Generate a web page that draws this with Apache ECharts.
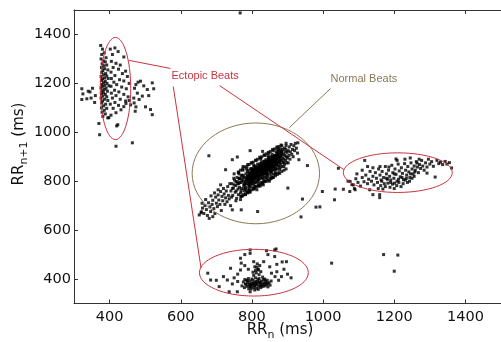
<!DOCTYPE html>
<html><head><meta charset="utf-8">
<script src="https://cdn.jsdelivr.net/npm/echarts@6/dist/echarts.min.js"></script>
<style>html,body{margin:0;padding:0;background:#fff}#c{width:501px;height:342px}</style>
</head><body><div id="c"></div>
<script>
// Tick labels
const xTicks = [400, 600, 800, 1000, 1200, 1400];
const yTicks = [400, 600, 800, 1000, 1200, 1400];

// Ectopic beats, upper-left cluster (RRn, RRn+1) in ms
const ectopicTop = [
[375,1355],[380,1340],[378,1318],[385,1325],[390,1305],[376,1300],[382,1292],[388,1288],[379,1280],[384,1272],[392,1275],[377,1265],[386,1260],[381,1252],[395,1255],[378,1245],[389,1240],[383,1235],[376,1228],[392,1230],[386,1222],[380,1218],[396,1220],[377,1212],[388,1208],[383,1203],[393,1200],[378,1196],[387,1192],[381,1188],[398,1190],[376,1182],[390,1180],[385,1175],[379,1170],[394,1168],[383,1162],[377,1158],[388,1155],[381,1148],[392,1145],[376,1140],[386,1135],[380,1128],[395,1130],[378,1120],[389,1115],[383,1108],[377,1100],[392,1098],[385,1090],[379,1082],[388,1075],[381,1065],
[402,1340],[415,1345],[424,1330],[408,1318],[440,1308],[405,1290],[418,1282],[430,1275],[410,1265],[425,1258],[445,1250],[404,1246],[436,1240],[415,1232],[450,1228],[405,1220],[428,1215],[440,1210],[412,1205],[455,1200],[420,1195],[404,1188],[434,1185],[447,1178],[414,1172],[426,1165],[405,1160],[440,1155],[418,1150],[452,1145],[408,1140],[430,1135],[445,1128],[415,1122],[402,1115],[425,1110],[440,1105],[410,1098],[432,1092],[418,1080],[404,1070],[398,1060],[423,1031],[420,1026],[446,1118],[455,1130],[459,1112],
[474,1195],[487,1209],[492,1148],[506,1175],[520,1202],[524,1178],[501,1104],[515,1093],[520,1072],[483,1134],[472,1086],[474,1104],[469,1120],[478,1160],[470,1180],[496,1190],[480,1205],[510,1150],[468,1140],
[464,957],[418,943],[372,990],[370,1036],[395,1059],
[322,1178],[325,1157],[322,1134],[336,1137],[345,1165],[352,1180],[348,1140],[360,1150],[358,1122],[340,1168]
];

// Normal beats, central cluster
const normalBeats = [
[652,662],[658,675],[661,690],[665,668],[668,700],[672,684],[675,660],[678,712],[682,695],[684,676],[688,705],[690,722],[693,688],[696,668],[698,735],[700,710],[703,696],[705,744],[707,723],[710,705],[712,758],[714,680],[716,738],[718,720],[720,770],[722,748],[724,705],[726,732],[728,760],[730,716],[732,778],[734,742],[736,728],[738,790],[740,700],[660,710],[670,725],[685,740],[695,752],[705,765],[712,785],[745,683],[690,655],[680,648],[657,671],
[741,760],[744,790],[746,742],[748,772],[751,805],[753,755],[755,782],[757,730],[759,798],[761,768],[743,735],[749,812],[756,760],[762,745],[758,815],
[763,790],[765,775],[767,810],[768,752],[770,795],[771,770],[773,825],[774,740],[776,800],[777,782],[779,760],[780,815],[764,830],[769,738],[775,845],[778,788],[772,805],[766,795],
[781,798],[782,775],[783,830],[784,805],[786,760],[787,820],[788,790],[789,845],[790,808],[791,780],[792,835],[793,765],[794,812],[795,795],[796,850],[797,825],[798,778],[799,805],[785,850],[788,752],[793,800],[780,785],[798,840],[791,818],
[800,818],[801,790],[802,842],[803,805],[804,770],[805,830],[806,812],[807,860],[808,795],[809,825],[810,780],[811,845],[812,808],[813,832],[814,765],[815,818],[816,870],[817,800],[818,840],[819,822],[820,790],[803,850],[807,778],[811,830],[815,850],[819,808],[805,865],[813,795],
[821,835],[822,810],[823,860],[824,845],[825,825],[826,795],[827,870],[828,838],[829,812],[830,850],[831,828],[832,785],[833,880],[834,842],[835,818],[836,860],[837,800],[838,835],[839,888],[840,850],[823,780],[827,848],[831,865],[835,832],[839,815],[825,890],[833,805],[837,875],
[841,865],[842,835],[843,880],[844,850],[845,818],[846,872],[847,845],[848,895],[849,830],[850,860],[851,875],[852,842],[853,810],[854,885],[855,858],[856,832],[857,900],[858,868],[859,848],[860,880],[843,825],[847,862],[851,890],[855,842],[859,815],[845,905],[853,865],[849,800],
[861,862],[862,890],[863,845],[864,875],[865,905],[866,858],[867,830],[868,885],[869,870],[870,912],[871,850],[872,880],[873,895],[874,862],[875,835],[876,900],[877,875],[878,920],[879,855],[880,888],[863,868],[868,850],[872,905],[877,890],[862,828],[875,928],
[881,870],[882,900],[883,915],[884,885],[885,860],[886,930],[887,895],[888,878],[889,910],[890,890],[891,935],[892,870],[893,905],[894,920],[895,885],[896,945],[897,900],[898,875],[899,918],[900,895],
[902,925],[904,905],[905,940],[907,890],[908,920],[910,950],[912,910],[914,930],[916,900],[918,945],[920,925],[922,955],[925,935],[928,915],
[795,812],[800,805],[805,822],[810,815],[815,835],[820,825],[825,845],[830,838],[835,855],[840,842],[845,860],[850,852],[855,870],[860,858],[865,878],[870,868],[797,832],[802,826],[808,840],[814,842],[818,856],[824,855],[829,864],[834,870],[838,862],[844,878],[848,872],[852,885],[857,880],[862,895],[866,888],[792,790],[798,798],[804,800],[812,820],[817,812],[822,820],[828,826],[833,830],[838,845],[843,840],[848,848],[853,852],[858,860],[864,865],[869,875],[874,882],[879,878],
[750,830],[755,720],[762,838],[768,725],[775,860],[782,745],[788,868],[795,755],[800,875],[806,770],[812,885],[818,782],[824,895],[830,795],[836,905],[842,808],[848,915],[854,820],[860,925],[866,835],[872,935],[878,848],[884,945],[890,860],[896,955],[902,875],[764,810],[770,760],[776,822],[782,768],[787,838],[793,782],[799,852],[805,790],[811,862],[817,802],[823,872],[829,815],[835,882],[841,828],[847,890],[853,838],[859,900],[865,850],[871,912],[877,862],[883,922],[889,875],[895,930],
[785,812],[790,825],[796,818],[801,838],[806,848],[811,855],[816,825],[821,848],[826,862],[832,855],[836,840],[842,858],[846,885],[851,868],[856,890],[861,875],[866,900],[871,895],[876,910],[881,905],[786,800],[791,770],[797,790],[802,812],[807,820],[812,835],[817,845],[822,865],[827,878],[832,872],[837,852],[841,880],[846,895],[852,900],[857,910],[863,885],[868,920],[873,925],[880,932],[885,920],[775,812],[770,822],[765,812],[760,790],[755,798],[750,785],[745,770],[778,770],[783,790],[788,805],[793,825],[798,815],[803,835],[809,808],[814,852],[820,840],[826,832],[831,845],[836,870],[842,870],[847,852],[852,858],[858,885],[864,905],[869,890],[874,900],
[762,835],[768,845],[774,850],[780,858],[786,860],[792,868],[798,875],[804,878],[810,886],[816,890],[822,898],[828,900],[834,908],[840,912],[846,918],[852,922],[858,930],[864,932],[870,940],[876,942],[882,948],
[770,738],[776,745],[782,748],[788,755],[794,758],[800,765],[806,768],[812,776],[818,780],[824,785],[830,790],[836,798],[842,800],[848,806],[854,812],[860,815],[866,822],[872,828],[878,832],[884,840],[890,845],[896,850],
[789,815],[794,828],[799,822],[804,845],[809,850],[814,826],[819,862],[824,838],[829,850],[834,860],[839,872],[844,866],[849,880],[854,876],[859,892],[864,880],[869,902],[874,915],[879,900],[884,910],
[679,904],[759,899],[795,925],[830,922],[726,847],[745,888],[901,772],[942,727],[770,683],[816,676],[938,654],[956,864],[929,957],[932,888]
];

// Ectopic beats, lower cluster
const ectopicBottom = [
[772,372],[776,388],[779,365],[782,380],[785,395],[787,370],[789,385],[791,360],[793,378],[795,392],[797,368],[799,382],[801,375],[803,395],[805,365],[807,385],[809,372],[811,390],[813,362],[815,380],[817,398],[819,370],[821,388],[823,376],[825,365],[827,392],[829,380],[831,370],[833,398],[835,385],[837,372],[839,390],[841,378],[843,395],[845,368],[848,385],[851,375],[854,392],[780,398],[790,402],[800,400],[810,405],[820,402],[830,408],[798,360],[808,355],[818,358],[812,378],[804,382],[796,376],[824,385],[788,392],[834,378],[826,372],[816,388],[806,375],[794,370],[784,378],[844,382],[836,400],
[805,415],[812,425],[818,440],[808,450],[815,462],[820,418],[810,435],[822,455],[803,428],[825,430],[814,448],
[795,519],[795,505],[841,516],[864,519],[868,523],[768,485],[770,465],[805,471],[833,471],[864,492],[897,471],[740,444],[768,437],[818,437],[855,424],[883,410],[676,424],[684,396],[731,396],[708,369],[736,348],[759,348],[795,348],[760,420],[750,405],[780,455],[850,450],[870,430],[890,440],[900,420],[875,395],[865,410],[745,380],[720,410],[700,395],[760,390],[870,460],[885,470],[910,405],[790,440],[845,500],[780,500]
];

// Ectopic beats, right cluster
const ectopicRight = [
[1070,800],[1085,785],[1092,810],[1098,795],[1105,780],[1110,815],[1115,798],[1120,825],[1125,790],[1128,808],[1132,840],[1136,800],[1140,820],[1143,785],[1147,835],[1150,812],[1153,795],[1156,850],[1160,825],[1163,805],[1166,840],[1170,815],[1172,790],[1175,860],[1178,830],[1181,808],[1184,845],[1187,820],[1190,795],[1193,865],[1196,835],[1199,812],[1202,850],[1205,828],[1208,800],[1211,870],[1214,842],[1217,818],[1220,855],[1223,832],[1226,806],[1229,872],[1232,845],[1235,825],[1238,860],[1241,838],[1244,815],[1247,875],[1250,850],[1253,830],[1256,862],[1259,845],[1262,880],[1265,858],[1268,835],[1271,868],[1274,852],[1277,885],[1280,862],[1284,845],[1288,875],[1292,858],[1296,890],[1300,870],[1305,880],[1310,861],[1315,817],[1320,885],[1325,872],[1330,878],[1336,868],[1343,881],[1348,870],[1355,876],[1361,854],[1205,891],[1208,885],[1117,885],[1264,874],[1292,833],
[1155,770],[1162,782],[1168,768],[1175,778],[1182,792],[1188,775],[1195,788],[1200,770],[1207,782],[1213,795],[1219,778],[1225,790],[1231,805],[1237,795],[1243,800],[1250,812],[1256,820],[1165,800],[1178,812],[1190,805],[1201,792],[1212,808],[1222,815],[1234,812],[1246,830],[1258,838],[1200,830],[1185,858],[1160,860],[1140,855],[1125,860],[1110,845],[1095,830],[1270,890],[1245,895],[1230,890],
[1131,765],[1159,745],[1159,733],[1140,745],[1088,770],[1075,758],[1076,799],[1081,786],[1090,765]
];

// Other isolated beats
const otherBeats = [
[767,1488],[980,694],[991,695],[998,758],[1034,768],[1032,724],[1057,767],[1043,853],[1024,465],[1170,500],[1210,498],[1200,432]
];

const RED = '#c8343f';
const OLIVE = '#8a7a55';
const FONT = 'DejaVu Sans';

const chart = echarts.init(document.getElementById('c'), null, {renderer: 'canvas'});

const axisCommon = {
  type: 'value', min: 300, max: 1500,
  axisLine: {show: true, onZero: false, lineStyle: {color: '#333', width: 1}},
  splitLine: {show: false}
};
const plain = v => String(v);

chart.setOption({
  animation: false,
  backgroundColor: '#fff',
  grid: {left: 74, top: 10, width: 435, height: 293.5, containLabel: false},
  xAxis: [
    Object.assign({}, axisCommon, {
      position: 'bottom',
      axisTick: {inside: true, length: 4, customValues: xTicks, lineStyle: {color: '#333'}},
      axisLabel: {customValues: xTicks, formatter: plain, margin: 6, fontFamily: FONT, fontSize: 14.5, color: '#111'}
    }),
    Object.assign({}, axisCommon, {
      position: 'top',
      axisTick: {inside: true, length: 4, customValues: xTicks, lineStyle: {color: '#333'}},
      axisLabel: {show: false}
    })
  ],
  yAxis: [
    Object.assign({}, axisCommon, {
      position: 'left',
      axisTick: {inside: true, length: 4, customValues: yTicks, lineStyle: {color: '#333'}},
      axisLabel: {customValues: yTicks, formatter: plain, margin: 3, fontFamily: FONT, fontSize: 14.5, color: '#111'}
    })
  ],
  series: [
    {type: 'scatter', name: 'beats', symbol: 'rect', symbolSize: 3,
     itemStyle: {color: '#000'},
     data: [].concat(ectopicTop, normalBeats, ectopicBottom, ectopicRight, otherBeats)}
  ]
});

// Annotation geometry (data units)
const annEllipses = [
  {c: [416.6, 1179], r: [42.8, 209], color: RED},
  {c: [811, 832], r: [179, 206], color: OLIVE},
  {c: [805.5, 426], r: [153, 95.5], color: RED},
  {c: [1210, 835], r: [153, 81], color: RED}
];
const annLines = [
  {a: [455, 1294], b: [571, 1261], color: RED},
  {a: [579, 1187], b: [657, 445], color: RED},
  {a: [709, 1191], b: [1059, 847], color: RED},
  {a: [1021, 1179], b: [905, 1019], color: OLIVE}
];
const annTexts = [
  {p: [574, 1232], text: 'Ectopic Beats', color: RED},
  {p: [1021, 1216], text: 'Normal Beats', color: OLIVE}
];

const toPx = p => chart.convertToPixel({seriesIndex: 0}, p);
const g = [];
annEllipses.forEach(e => {
  const c = toPx(e.c);
  const ex = toPx([e.c[0] + e.r[0], e.c[1]]);
  const ey = toPx([e.c[0], e.c[1] + e.r[1]]);
  g.push({type: 'ellipse', silent: true, z: 10,
    shape: {cx: c[0], cy: c[1], rx: Math.abs(ex[0] - c[0]), ry: Math.abs(ey[1] - c[1])},
    style: {fill: null, stroke: e.color, lineWidth: 1}});
});
annLines.forEach(l => {
  const a = toPx(l.a), b = toPx(l.b);
  g.push({type: 'line', silent: true, z: 10,
    shape: {x1: a[0], y1: a[1], x2: b[0], y2: b[1]},
    style: {stroke: l.color, lineWidth: 1}});
});
annTexts.forEach(t => {
  const p = toPx(t.p);
  g.push({type: 'text', silent: true, z: 11, x: p[0], y: p[1],
    style: {text: t.text, fill: t.color, font: '11px "Liberation Sans"', align: 'left', verticalAlign: 'middle'}});
});
// Axis titles
const nameRich = {
  a: {fontFamily: FONT, fontSize: 15, lineHeight: 22, fill: '#111', color: '#111'},
  b: {fontFamily: FONT, fontSize: 11, lineHeight: 11, verticalAlign: 'bottom', fill: '#111', color: '#111'}
};
g.push({type: 'text', silent: true, x: 280, y: 330,
  style: {text: '{a|RR}{b|n}{a| (ms)}', rich: nameRich, align: 'center', verticalAlign: 'middle'}});
g.push({type: 'text', silent: true, x: 19, y: 144, rotation: Math.PI / 2,
  style: {text: '{a|RR}{b|n+1}{a| (ms)}', rich: nameRich, align: 'center', verticalAlign: 'middle'}});

chart.setOption({graphic: {elements: g}});
</script>
</body></html>
